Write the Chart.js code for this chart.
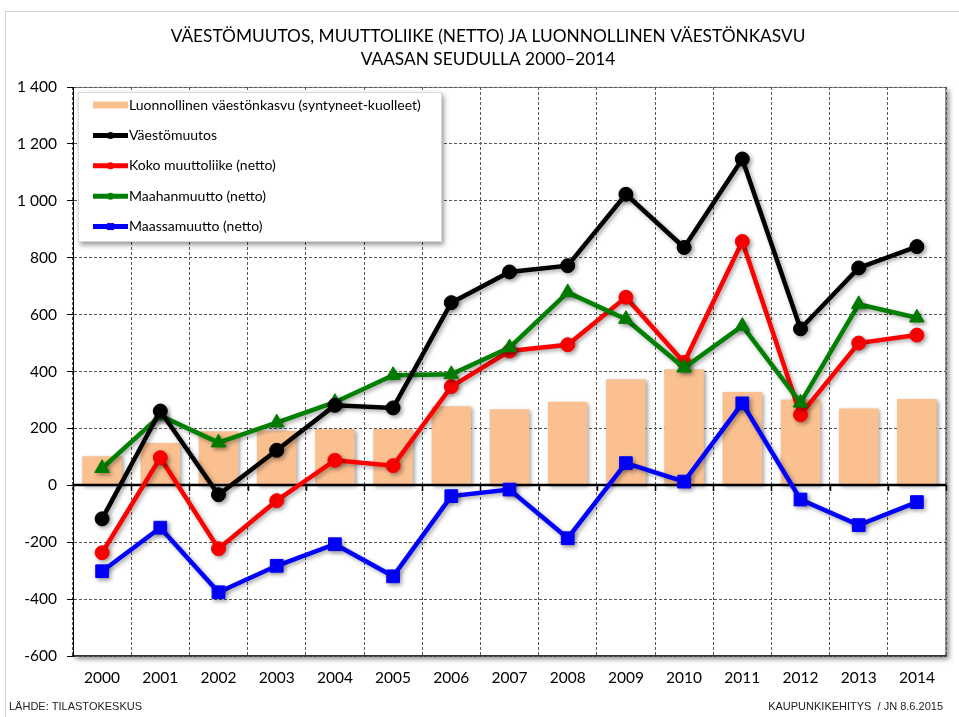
<!DOCTYPE html>
<html>
<head>
<meta charset="utf-8">
<script src="https://cdn.jsdelivr.net/npm/chart.js@4"></script>
<style>
  body { margin: 0; background: #fff; }
  canvas { display: block; }
</style>
</head>
<body>
<canvas id="chart" width="959" height="717"></canvas>
<script>
var years = ['2000', '2001', '2002', '2003', '2004', '2005', '2006', '2007',
  '2008', '2009', '2010', '2011', '2012', '2013', '2014'];

// luonnollinen väestönkasvu (syntyneet - kuolleet)
var luonnollinen = [102, 149, 190, 192, 198, 198, 278, 267, 294, 373, 408, 328, 302, 270, 303];
var vaestomuutos = [-118, 261, -33, 123, 281, 272, 642, 750, 772, 1023, 836, 1147, 550, 764, 839];
var muuttoliike = [-237, 97, -223, -54, 88, 69, 347, 472, 494, 661, 432, 857, 248, 500, 528];
var maahanmuutto = [60, 245, 150, 220, 292, 387, 390, 484, 678, 584, 413, 560, 290, 636, 589];
var maassamuutto = [-302, -149, -376, -283, -207, -320, -38, -15, -186, 78, 13, 288, -50, -140, -59];

var titleLines = ['VÄESTÖMUUTOS, MUUTTOLIIKE (NETTO) JA LUONNOLLINEN VÄESTÖNKASVU',
  'VAASAN SEUDULLA 2000–2014'];
var sourceText = 'LÄHDE: TILASTOKESKUS';
var authorText = 'KAUPUNKIKEHITYS  / JN 8.6.2015';

var FONT = 'Lato, "Open Sans", sans-serif';

function fmt(v) {
  var s = String(Math.abs(v));
  if (s.length > 3) s = s.slice(0, s.length - 3) + ' ' + s.slice(s.length - 3);
  return (v < 0 ? '-' : '') + s;
}

// background, frame, title and footer texts
var decor = {
  id: 'decor',
  beforeDraw: function (chart) {
    var ctx = chart.ctx, a = chart.chartArea;
    ctx.save();
    ctx.fillStyle = '#fff';
    ctx.fillRect(0, 0, chart.width, chart.height);
    ctx.strokeStyle = '#d0d0d0';
    ctx.lineWidth = 1;
    ctx.strokeRect(5.5, 11.5, chart.width + 10, chart.height + 10);
    ctx.shadowColor = 'rgba(0,0,0,0.45)';
    ctx.shadowBlur = 5;
    ctx.shadowOffsetX = 3;
    ctx.shadowOffsetY = 3;
    ctx.fillRect(a.left, a.top, a.right - a.left, a.bottom - a.top);
    ctx.restore();
    ctx.save();
    ctx.strokeStyle = '#8c8c8c';
    ctx.strokeRect(a.left + 0.5, a.top + 0.5, a.right - a.left - 1, a.bottom - a.top - 1);
    ctx.fillStyle = '#000';
    ctx.font = '17.3px ' + FONT;
    ctx.textAlign = 'center';
    ctx.textBaseline = 'middle';
    ctx.fillText(titleLines[0], 488, 36);
    ctx.fillText(titleLines[1], 488, 59);
    ctx.font = '11px "Liberation Sans", Arial, sans-serif';
    ctx.fillStyle = '#222';
    ctx.textAlign = 'left';
    ctx.fillText(sourceText, 9, 707);
    ctx.textAlign = 'right';
    ctx.fillText(authorText, 943, 707);
    ctx.restore();
  },
  beforeDatasetDraw: function (chart, args) {
    var ctx = chart.ctx;
    ctx.save();
    ctx.shadowColor = 'rgba(0,0,0,0.35)';
    ctx.shadowBlur = 4;
    ctx.shadowOffsetX = 2;
    ctx.shadowOffsetY = 2;
  },
  afterDatasetDraw: function (chart, args) {
    var ctx = chart.ctx;
    ctx.restore();
    if (args.meta.type !== 'bar') return;
    // solid zero line with small ticks
    var a = chart.chartArea, xs = chart.scales.x;
    var y0 = Math.round(chart.scales.y.getPixelForValue(0));
    ctx.save();
    ctx.strokeStyle = '#000';
    ctx.lineWidth = 2.5;
    ctx.beginPath();
    ctx.moveTo(a.left, y0);
    ctx.lineTo(a.right, y0);
    ctx.stroke();
    ctx.lineWidth = 1.5;
    ctx.beginPath();
    for (var i = 0; i <= years.length; i++) {
      var x = Math.round(xs.left + (xs.right - xs.left) * i / years.length) + 0.5;
      ctx.moveTo(x, y0);
      ctx.lineTo(x, y0 + 6);
    }
    ctx.stroke();
    ctx.restore();
  }
};

// legend box inside the plot area
var legendBox = {
  id: 'legendBox',
  afterDraw: function (chart) {
    var ctx = chart.ctx, a = chart.chartArea;
    var x = a.left + 5, y = a.top + 5, w = 364, h = 150;
    ctx.save();
    ctx.shadowColor = 'rgba(0,0,0,0.4)';
    ctx.shadowBlur = 5;
    ctx.shadowOffsetX = 2;
    ctx.shadowOffsetY = 3;
    ctx.fillStyle = '#fff';
    ctx.fillRect(x, y, w, h);
    ctx.restore();
    ctx.save();
    ctx.strokeStyle = '#d9d9d9';
    ctx.strokeRect(x + 0.5, y + 0.5, w - 1, h - 1);
    ctx.font = '14px ' + FONT;
    ctx.textBaseline = 'middle';
    chart.data.datasets.forEach(function (ds, i) {
      var cy = y + 13 + i * 30.4;
      var sx = x + 15, ex = x + 50;
      ctx.lineCap = 'butt';
      if (ds.type === 'bar') {
        ctx.strokeStyle = ds.backgroundColor;
        ctx.lineWidth = 7;
        ctx.beginPath(); ctx.moveTo(sx, cy); ctx.lineTo(ex, cy); ctx.stroke();
      } else {
        ctx.strokeStyle = ds.borderColor;
        ctx.lineWidth = 5;
        ctx.beginPath(); ctx.moveTo(sx, cy); ctx.lineTo(ex, cy); ctx.stroke();
        ctx.fillStyle = ds.borderColor;
        ctx.beginPath();
        if (ds.pointStyle === 'rect') ctx.rect((sx + ex) / 2 - 3.5, cy - 3.5, 7, 7);
        else ctx.arc((sx + ex) / 2, cy, 3.5, 0, Math.PI * 2);
        ctx.fill();
      }
      ctx.fillStyle = '#000';
      ctx.textAlign = 'left';
      ctx.fillText(ds.label, ex + 1, cy);
    });
    ctx.restore();
  }
};

function lineSet(label, data, color, style, radius, order) {
  return {
    type: 'line',
    label: label,
    data: data,
    borderColor: color,
    backgroundColor: color,
    pointBackgroundColor: color,
    pointBorderColor: color,
    borderWidth: 4.5,
    pointStyle: style,
    pointRadius: radius,
    pointBorderWidth: 1,
    tension: 0,
    order: order
  };
}

new Chart(document.getElementById('chart').getContext('2d'), {
  data: {
    labels: years,
    datasets: [
      {
        type: 'bar',
        label: 'Luonnollinen väestönkasvu (syntyneet-kuolleet)',
        data: luonnollinen,
        backgroundColor: '#FAC090',
        borderWidth: 0,
        categoryPercentage: 1,
        barPercentage: 0.68,
        order: 10
      },
      lineSet('Väestömuutos', vaestomuutos, '#000000', 'circle', 7, 1),
      lineSet('Koko muuttoliike (netto)', muuttoliike, '#FF0000', 'circle', 7, 3),
      lineSet('Maahanmuutto (netto)', maahanmuutto, '#008000', 'triangle', 8.5, 2),
      lineSet('Maassamuutto (netto)', maassamuutto, '#0000FF', 'rect', 9, 4)
    ]
  },
  options: {
    responsive: false,
    animation: false,
    devicePixelRatio: 1,
    events: [],
    layout: {
      padding: { top: 87, right: 13, bottom: 25, left: 0 }
    },
    scales: {
      x: {
        offset: true,
        grid: {
          offset: true,
          color: '#555',
          lineWidth: 1,
          drawTicks: false
        },
        border: { color: '#333', width: 1.5, dash: [3, 2] },
        ticks: {
          color: '#000',
          padding: 13,
          font: { family: FONT, size: 15.5 }
        },
        afterFit: function (scale) { scale.height = 36; }
      },
      y: {
        min: -600,
        max: 1400,
        grid: {
          color: '#555',
          lineWidth: 1,
          tickLength: 6,
          tickColor: '#000',
          tickBorderDash: []
        },
        border: { color: '#000', width: 1, dash: [3, 2] },
        ticks: {
          stepSize: 200,
          color: '#000',
          padding: 10,
          font: { family: FONT, size: 15.5 },
          callback: function (v) { return fmt(v); }
        },
        afterFit: function (scale) { scale.width = 73; }
      }
    },
    plugins: {
      legend: { display: false },
      title: { display: false },
      tooltip: { enabled: false }
    }
  },
  plugins: [decor, legendBox]
});
</script>
</body>
</html>
